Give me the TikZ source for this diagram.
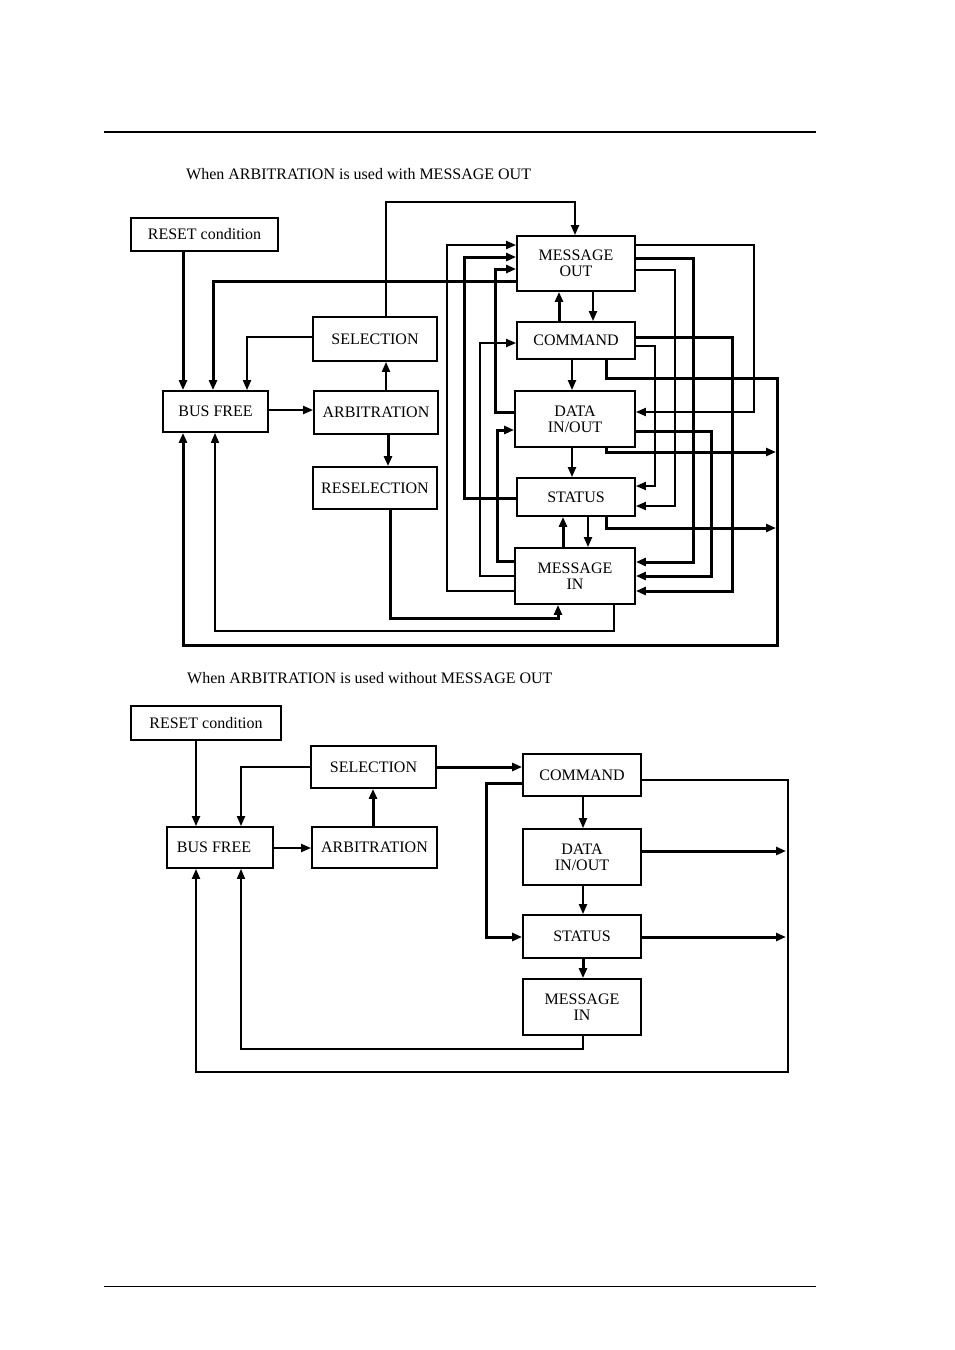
\documentclass[tikz,border=0pt]{standalone}
\usepackage{fontspec}
\setmainfont{Liberation Serif}
\usetikzlibrary{arrows.meta}
\begin{document}
\begin{tikzpicture}[x=1pt,y=-1pt,
  blk/.style={draw,line width=1.8pt,minimum width=#1,inner sep=0pt,align=center,font=\fontsize{16}{16}\selectfont},
  thk/.style={line width=3pt},
  med/.style={line width=2pt},
  thn/.style={line width=1.5pt},
  >={Triangle[length=10pt,width=8pt]},
  ttl/.style={anchor=west,inner sep=0pt,font=\fontsize{16}{16}\selectfont}]
\useasboundingbox[fill=white] (0,0) rectangle (954,1350);
% rules
\draw[line width=2pt] (104,132) -- (816,132);
\draw[line width=1pt] (104,1286) -- (816,1286);
% titles
\node[ttl] (t1) at (186,174) {When ARBITRATION is used with MESSAGE OUT};
\node[ttl] (t2) at (187,678) {When ARBITRATION is used without MESSAGE OUT};

% ---------- top diagram ----------
\node[blk=147pt,minimum height=33pt] (reset1) at (204.5,234.5) {RESET condition};
\node[blk=124pt,minimum height=44pt] (sel1) at (375,339) {SELECTION};
\node[blk=105pt,minimum height=41pt] (bf1) at (215.5,411.5) {BUS FREE};
\node[blk=124pt,minimum height=43pt] (arb1) at (376,412.5) {ARBITRATION};
\node[blk=124pt,minimum height=42pt] (resel1) at (375,488) {RESELECTION};
\node[blk=118pt,minimum height=55pt] (mo1) at (576,263.5) {MESSAGE\\OUT};
\node[blk=118pt,minimum height=37pt] (cmd1) at (576,340.5) {COMMAND};
\node[blk=120pt,minimum height=56pt] (data1) at (575,419) {DATA\\IN/OUT};
\node[blk=118pt,minimum height=38pt] (st1) at (576,497) {STATUS};
\node[blk=120pt,minimum height=56pt] (mi1) at (575,576) {MESSAGE\\IN};
\coordinate (j1) at (776,452);
\coordinate (j2) at (776,528);

\draw[thk,->] (reset1.south -| 183,0) -- (bf1.north -| 183,0);
\draw[thk,->] (mo1.west |- 0,281) -| (bf1.north -| 213,0);
\draw[med,->] (sel1.west |- 0,337) -| (bf1.north -| 247,0);
\draw[med,->] (bf1.east |- 0,410) -- (arb1.west |- 0,410);
\draw[med,->] (arb1.north -| 386,0) -- (sel1.south -| 386,0);
\draw[thk,->] (arb1.south -| 388,0) -- (resel1.north -| 388,0);
\draw[med,->] (sel1.north -| 386,0) -- (386,202) -| (mo1.north -| 575,0);
\draw[thk,->] (resel1.south -| 390,0) -- (390,618) -| (mi1.south -| 558,0);
\draw[thn,->] (mi1.south -| 614,0) -- (614,631) -| (bf1.south -| 215,0);
\draw[thk,->] (cmd1.south -| 606,0) -- (606,378) -- (777,378) -- (777,645) -| (bf1.south -| 183,0);
\draw[thk,->] (data1.south -| 606,0) |- (j1);
\draw[thk,->] (st1.south -| 606,0) |- (j2);
% vertical chain
\draw[thk,->] (cmd1.north -| 559,0) -- (mo1.south -| 559,0);
\draw[med,->] (mo1.south -| 593,0) -- (cmd1.north -| 593,0);
\draw[med,->] (cmd1.south -| 572,0) -- (data1.north -| 572,0);
\draw[med,->] (data1.south -| 572,0) -- (st1.north -| 572,0);
\draw[thk,->] (mi1.north -| 563,0) -- (st1.south -| 563,0);
\draw[med,->] (st1.south -| 588,0) -- (mi1.north -| 588,0);
% left side returns
\draw[med,->] (mi1.west |- 0,591) -| (447,245) -- (mo1.west |- 0,245);
\draw[thk,->] (st1.west |- 0,498) -| (464,257) -- (mo1.west |- 0,257);
\draw[thk,->] (data1.west |- 0,412) -| (495,269) -- (mo1.west |- 0,269);
\draw[med,->] (mi1.west |- 0,576) -| (480,343) -- (cmd1.west |- 0,343);
\draw[thk,->] (mi1.west |- 0,561) -| (497,430) -- (data1.west |- 0,430);
% right side
\draw[med,->] (mo1.east |- 0,245) -| (754,412) -- (data1.east |- 0,412);
\draw[thk,->] (mo1.east |- 0,258) -| (693,562) -- (mi1.east |- 0,562);
\draw[med,->] (mo1.east |- 0,270) -| (675,506) -- (st1.east |- 0,506);
\draw[thk,->] (cmd1.east |- 0,337) -| (732,591) -- (mi1.east |- 0,591);
\draw[med,->] (cmd1.east |- 0,346) -| (655,486) -- (st1.east |- 0,486);
\draw[thk,->] (data1.east |- 0,431) -| (711,576) -- (mi1.east |- 0,576);

% ---------- bottom diagram ----------
\node[blk=150pt,minimum height=34pt] (reset2) at (206,723) {RESET condition};
\node[blk=125pt,minimum height=42pt] (sel2) at (373.5,767) {SELECTION};
\node[blk=106pt,minimum height=41pt] (bf2) at (220,847.5) {BUS FREE\hspace{12pt}};
\node[blk=125pt,minimum height=41pt] (arb2) at (374.5,847.5) {ARBITRATION};
\node[blk=118pt,minimum height=42pt] (cmd2) at (582,775) {COMMAND};
\node[blk=118pt,minimum height=56pt] (data2) at (582,857) {DATA\\IN/OUT};
\node[blk=118pt,minimum height=43pt] (st2) at (582,936.5) {STATUS};
\node[blk=118pt,minimum height=56pt] (mi2) at (582,1007) {MESSAGE\\IN};
\coordinate (j3) at (786,851);
\coordinate (j4) at (786,937);

\draw[med,->] (reset2.south -| 196,0) -- (bf2.north -| 196,0);
\draw[med,->] (sel2.west |- 0,767) -| (bf2.north -| 241,0);
\draw[med,->] (bf2.east |- 0,848) -- (arb2.west |- 0,848);
\draw[thk,->] (arb2.north -| 373,0) -- (sel2.south -| 373,0);
\draw[thk,->] (sel2.east |- 0,767) -- (cmd2.west |- 0,767);
\draw[thk,->] (cmd2.west |- 0,783) -| (486,937) -- (st2.west |- 0,937);
\draw[med,->] (cmd2.south -| 583,0) -- (data2.north -| 583,0);
\draw[med,->] (data2.south -| 583,0) -- (st2.north -| 583,0);
\draw[thk,->] (st2.south -| 583,0) -- (mi2.north -| 583,0);
\draw[thk,->] (data2.east |- 0,851) -- (j3);
\draw[thk,->] (st2.east |- 0,937) -- (j4);
\draw[med,->] (cmd2.east |- 0,780) -| (788,1072) -| (bf2.south -| 196,0);
\draw[thn,->] (mi2.south -| 583,0) -- (583,1049) -| (bf2.south -| 241,0);
\end{tikzpicture}
\end{document}
